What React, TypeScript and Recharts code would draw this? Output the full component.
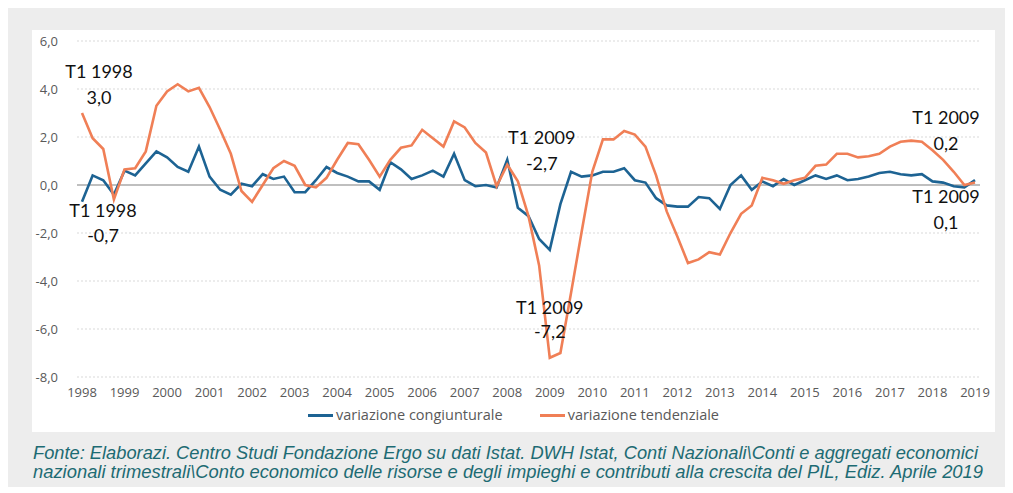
import { LineChart, Line, XAxis, YAxis, CartesianGrid, ReferenceLine, ReferenceDot } from "recharts"

const years = [
  "1998", "1999", "2000", "2001", "2002", "2003", "2004", "2005", "2006", "2007", "2008",
  "2009", "2010", "2011", "2012", "2013", "2014", "2015", "2016", "2017", "2018", "2019",
]
const quarterNames = ["T1", "T2", "T3", "T4"]

// T1 1998 ... T1 2019
const quarters: string[] = []
years.forEach((y) => {
  quarterNames.forEach((q) => {
    if (y !== "2019" || q === "T1") quarters.push(`${q} ${y}`)
  })
})

const congiunturale = [
  -0.7, 0.4, 0.2, -0.4, 0.6, 0.4, 0.9, 1.4, 1.15, 0.75, 0.55, 1.6, 0.35, -0.2, -0.4, 0.05,
  -0.05, 0.45, 0.25, 0.35, -0.3, -0.3, 0.2, 0.75, 0.5, 0.35, 0.15, 0.15, -0.2, 0.95, 0.65, 0.25,
  0.4, 0.6, 0.35, 1.3, 0.2, -0.05, 0.0, -0.1, 1.05, -0.95, -1.3, -2.25, -2.7, -0.8, 0.55, 0.35,
  0.4, 0.55, 0.55, 0.7, 0.2, 0.1, -0.55, -0.85, -0.9, -0.9, -0.5, -0.55, -1.0, 0.0, 0.4, -0.2,
  0.15, -0.05, 0.25, 0.0, 0.2, 0.4, 0.25, 0.4, 0.2, 0.25, 0.35, 0.5, 0.55, 0.45, 0.4, 0.45,
  0.15, 0.1, -0.05, -0.1, 0.2,
]

const tendenziale = [
  3.0, 1.95, 1.5, -0.6, 0.65, 0.7, 1.4, 3.3, 3.9, 4.2, 3.9, 4.05, 3.25, 2.3, 1.3, -0.25,
  -0.7, 0.0, 0.7, 1.0, 0.8, 0.0, -0.1, 0.3, 1.05, 1.75, 1.7, 1.05, 0.35, 1.05, 1.55, 1.65,
  2.3, 1.95, 1.6, 2.65, 2.4, 1.75, 1.35, -0.05, 0.85, 0.15, -1.3, -3.35, -7.2, -7.0, -4.5, -1.95,
  0.55, 1.9, 1.9, 2.25, 2.1, 1.6, 0.4, -1.1, -2.15, -3.25, -3.1, -2.8, -2.9, -2.0, -1.2, -0.85,
  0.3, 0.2, 0.05, 0.2, 0.3, 0.8, 0.85, 1.3, 1.3, 1.15, 1.2, 1.3, 1.6, 1.8, 1.85, 1.8,
  1.45, 1.05, 0.55, 0.0, 0.1,
]

const yTicks = [-8, -6, -4, -2, 0, 2, 4, 6]
const yearTicks = quarters.filter((q) => q.startsWith("T1"))

const annotationPoints = ["T1 1998", "T1 1998", "T1 2009", "T1 2009", "T1 2019", "T1 2019"]
const annotationSeries = ["tend", "cong", "cong", "tend", "cong", "tend"]
const annotationTitles = ["T1 1998", "T1 1998", "T1 2009", "T1 2009", "T1 2009", "T1 2009"]
const annotationValues = ["3,0", "-0,7", "-2,7", "-7,2", "0,2", "0,1"]

// label offsets from the point (px): dx, dy of first line, dy of second line
const annotationOffsets = [
  [17, -42, -16],
  [21, 8, 33],
  [-8, -113, -87],
  [0, -51, -27],
  [-29, -63, -37],
  [-29, 13, 39],
]

const data = quarters.map((q, i) => ({ q, cong: congiunturale[i], tend: tendenziale[i] }))

const BLUE = "#1d6393"
const ORANGE = "#f07f56"
const fmt = (v: number) => v.toFixed(1).replace(".", ",")

function makeLabel(i: number) {
  return (props: any) => {
    const vb = props.viewBox || {}
    const cx = (vb.x ?? 0) + (vb.width ?? 0) / 2
    const cy = (vb.y ?? 0) + (vb.height ?? 0) / 2
    const [dx, dy1, dy2] = annotationOffsets[i]
    return (
      <g style={{ fontFamily: "Lato", fontSize: 18 }} fill="#111">
        <text x={cx + dx} y={cy + dy1} textAnchor="middle" dominantBaseline="central">
          {annotationTitles[i]}
        </text>
        <text x={cx + dx} y={cy + dy2} textAnchor="middle" dominantBaseline="central">
          {annotationValues[i]}
        </text>
      </g>
    )
  }
}

export default function App() {
  return (
    <div style={{ position: "relative", width: 998, height: 479, marginLeft: -1, background: "#ededed" }}>
      <div style={{ position: "absolute", left: 25, top: 22, width: 963, height: 402, background: "#fff" }}>
        <LineChart width={963} height={402} data={data} margin={{ top: 11, right: 15, left: 0, bottom: 25 }}>
          <CartesianGrid vertical={false} stroke="#d9d9d9" strokeDasharray="2 2" />
          <XAxis
            dataKey="q"
            ticks={yearTicks}
            interval={0}
            tickFormatter={(q: string) => q.slice(3)}
            axisLine={false}
            tickLine={false}
            tickSize={0}
            tickMargin={11}
            height={30}
            padding={{ left: 5, right: 5 }}
            tick={{ fill: "#595959", fontSize: 13, fontFamily: "Open Sans" }}
          />
          <YAxis
            domain={[-8, 6]}
            ticks={yTicks}
            interval={0}
            tickFormatter={fmt}
            axisLine={false}
            tickLine={false}
            tickSize={0}
            tickMargin={19}
            width={45}
            tick={{ fill: "#595959", fontSize: 13, fontFamily: "Open Sans" }}
          />
          <ReferenceLine y={0} stroke="#bfbfbf" strokeWidth={2} />
          <Line type="linear" dataKey="cong" stroke={BLUE} strokeWidth={2.6} dot={false} isAnimationActive={false} />
          <Line type="linear" dataKey="tend" stroke={ORANGE} strokeWidth={2.6} dot={false} isAnimationActive={false} />
          {annotationPoints.map((p, i) => {
            const idx = quarters.indexOf(p)
            const v = annotationSeries[i] === "cong" ? congiunturale[idx] : tendenziale[idx]
            return (
              <ReferenceDot key={i} x={p} y={v} r={0} fill="none" stroke="none" ifOverflow="visible" label={makeLabel(i)} />
            )
          })}
        </LineChart>
        <div
          style={{
            position: "absolute",
            left: 0,
            top: 375,
            width: 963,
            display: "flex",
            justifyContent: "center",
            gap: 37,
            fontFamily: "Open Sans",
            fontSize: 14.5,
            color: "#595959",
            lineHeight: "20px",
          }}
        >
          <div style={{ display: "flex", alignItems: "center" }}>
            <span style={{ display: "inline-block", width: 25, height: 3, background: BLUE, marginRight: 3 }} />
            variazione congiunturale
          </div>
          <div style={{ display: "flex", alignItems: "center" }}>
            <span style={{ display: "inline-block", width: 25, height: 3, background: ORANGE, marginRight: 3 }} />
            variazione tendenziale
          </div>
        </div>
      </div>
      <svg width={998} height={55} style={{ position: "absolute", left: 0, top: 424 }}>
        <g style={{ fontFamily: "Liberation Sans", fontStyle: "italic", fontSize: 18.5 }} fill="#1d6b73">
          <text x={26} y={27} textLength={945} lengthAdjust="spacingAndGlyphs">
            Fonte: Elaborazi. Centro Studi Fondazione Ergo su dati Istat. DWH Istat, Conti Nazionali\Conti e aggregati economici
          </text>
          <text x={26} y={46} textLength={950} lengthAdjust="spacingAndGlyphs">
            nazionali trimestrali\Conto economico delle risorse e degli impieghi e contributi alla crescita del PIL, Ediz. Aprile 2019
          </text>
        </g>
      </svg>
    </div>
  )
}
